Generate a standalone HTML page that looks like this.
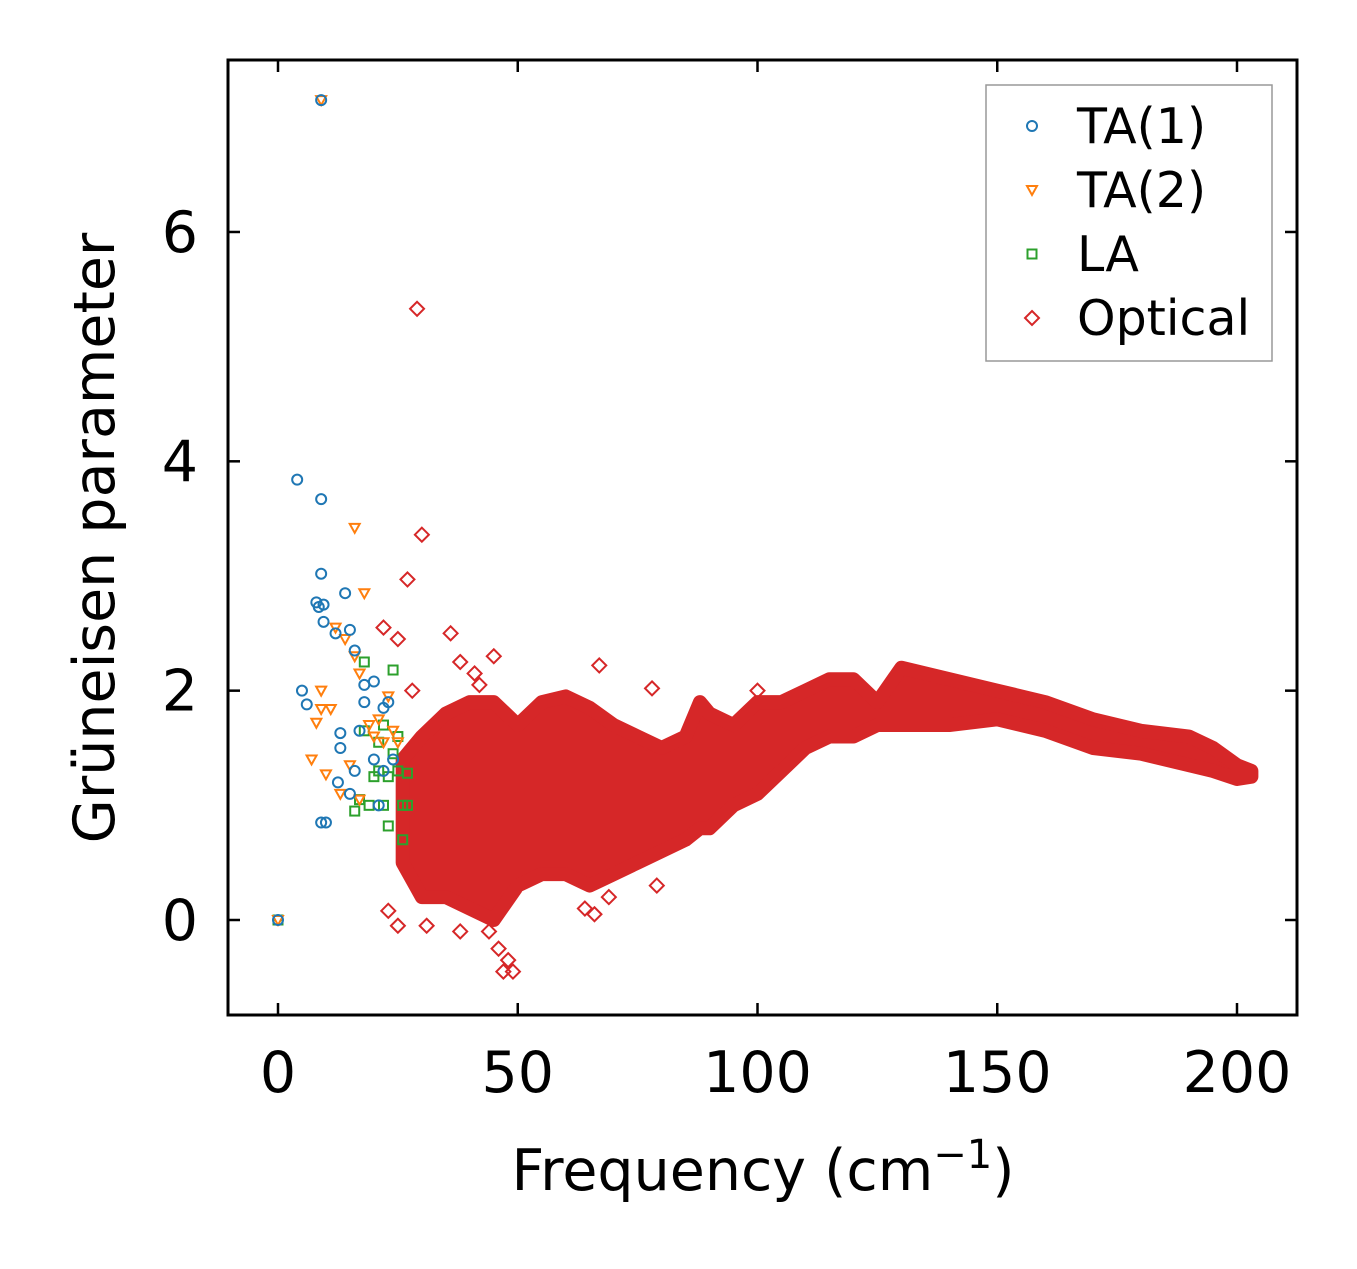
<!DOCTYPE html>
<html><head><meta charset="utf-8"><style>
html,body{margin:0;padding:0;background:#fff;}
svg text{font-family:"DejaVu Sans","Liberation Sans",sans-serif;fill:#000;}
</style></head><body>
<svg id="chart" width="1357" height="1264" viewBox="0 0 1357 1264" xmlns="http://www.w3.org/2000/svg">
<rect x="0" y="0" width="1357" height="1264" fill="#fff"/>
<g id="marks"></g>
<g id="axes"></g>
<g id="legend"></g>
</svg>
<script>
const xTicks=[0,50,100,150,200];
const yTicks=[0,2,4,6];
const ta1X=[0,4,5,6,8,8.5,9,9,9,9.5,10,12,12.5,13,13,14,15,15,16,16,17,18,18,20,20,21,22,22,23,24,9,9.5];
const ta1Y=[0,3.84,2.0,1.88,2.77,2.73,3.67,3.02,0.85,2.6,0.85,2.5,1.2,1.5,1.63,2.85,2.53,1.1,2.35,1.3,1.65,1.9,2.05,1.4,2.08,1.0,1.85,1.3,1.9,1.4,7.15,2.75];
const ta2X=[0,7,8,9,9,10,11,12,13,14,15,16,16,17,17,18,19,20,21,22,23,24,25,9];
const ta2Y=[0,1.4,1.72,1.84,2.0,1.27,1.84,2.55,1.1,2.45,1.35,3.42,2.3,1.05,2.15,2.85,1.7,1.6,1.75,1.55,1.95,1.65,1.55,7.15];
const laX=[0,16,17,18,18,19,20,21,21,22,22,23,23,24,24,25,25,26,26,27,27];
const laY=[0,0.95,1.05,2.25,1.65,1.0,1.25,1.55,1.3,1.0,1.7,1.25,0.82,2.18,1.45,1.6,1.3,1.0,0.7,1.28,1.0];
const optFreq=[26,30,35,40,45,50,55,60,65,70,75,80,85,88,90,95,100,105,110,115,120,125,130,140,150,160,170,180,190,195,200,203];
const optLow=[0.5,0.2,0.2,0.1,0.0,0.3,0.4,0.4,0.3,0.4,0.5,0.6,0.7,0.8,0.8,1.0,1.1,1.3,1.5,1.6,1.6,1.7,1.7,1.7,1.75,1.65,1.5,1.45,1.35,1.3,1.23,1.25];
const optHigh=[1.4,1.6,1.8,1.9,1.9,1.7,1.9,1.95,1.85,1.7,1.6,1.5,1.6,1.9,1.8,1.7,1.9,1.9,2.0,2.1,2.1,1.9,2.2,2.1,2.0,1.9,1.75,1.65,1.6,1.5,1.35,1.3];
const optOutX=[29,30,28,27,22,25,36,38,45,47,48,46,49,44,23,31,25,67,78,66,79,64,69,100,41,42,38];
const optOutY=[5.33,3.36,2.0,2.97,2.55,2.45,2.5,2.25,2.3,-0.45,-0.35,-0.25,-0.45,-0.1,0.08,-0.05,-0.05,2.22,2.02,0.05,0.3,0.1,0.2,2.0,2.15,2.05,-0.1];

const X=v=>278+(v)*4.795;
const Y=v=>920-v*114.67;
const NS="http://www.w3.org/2000/svg";
function mk(tag,attrs,parent){const e=document.createElementNS(NS,tag);for(const k in attrs)e.setAttribute(k,attrs[k]);parent.appendChild(e);return e;}
const marks=document.getElementById('marks');
const C={b:'#1f77b4',o:'#ff7f0e',g:'#2ca02c',r:'#d62728'};
function diamond(x,y,p,name){const s=7;const el=mk('polygon',{points:`${x},${y-s} ${x+s},${y} ${x},${y+s} ${x-s},${y}`,fill:'none',stroke:C.r,'stroke-width':2},p);

}
function circle(x,y,p,name){const el=mk('circle',{cx:x,cy:y,r:5,fill:'none',stroke:C.b,'stroke-width':2},p);

}
function tri(x,y,p,name){const el=mk('polygon',{points:`${x-5},${y-4} ${x+5},${y-4} ${x},${y+5}`,fill:'none',stroke:C.o,'stroke-width':2},p);

}
function sq(x,y,p,name){const el=mk('rect',{x:x-4.5,y:y-4.5,width:9,height:9,fill:'none',stroke:C.g,'stroke-width':2},p);

}

let pts=[];
for(let i=0;i<optFreq.length;i++)pts.push(X(optFreq[i])+','+Y(optHigh[i]));
for(let i=optFreq.length-1;i>=0;i--)pts.push(X(optFreq[i])+','+Y(optLow[i]));
const band=mk('polygon',{points:pts.join(' '),fill:C.r,stroke:C.r,'stroke-width':14,'stroke-linejoin':'round'},marks);


for(let i=0;i<optOutX.length;i++)diamond(X(optOutX[i]),Y(optOutY[i]),marks,'optical-point');
for(let i=0;i<laX.length;i++)sq(X(laX[i]),Y(laY[i]),marks,'la-point');
for(let i=0;i<ta2X.length;i++)tri(X(ta2X[i]),Y(ta2Y[i]),marks,'ta2-point');
for(let i=0;i<ta1X.length;i++)circle(X(ta1X[i]),Y(ta1Y[i]),marks,'ta1-point');

const ax=document.getElementById('axes');
const frame=mk('rect',{x:228,y:60,width:1069,height:955,fill:'none',stroke:'#000','stroke-width':3},ax);


xTicks.forEach(t=>{const x=X(t);
mk('line',{x1:x,y1:1015,x2:x,y2:1003,stroke:'#000','stroke-width':2.5},ax);
mk('line',{x1:x,y1:60,x2:x,y2:72,stroke:'#000','stroke-width':2.5},ax);
const tx=mk('text',{x:x,y:1092,'font-size':57,'text-anchor':'middle'},ax);tx.textContent=t;

});
yTicks.forEach(t=>{const y=Y(t);
mk('line',{x1:228,y1:y,x2:240,y2:y,stroke:'#000','stroke-width':2.5},ax);
mk('line',{x1:1297,y1:y,x2:1285,y2:y,stroke:'#000','stroke-width':2.5},ax);
const tx=mk('text',{x:198,y:y+20,'font-size':57,'text-anchor':'end'},ax);tx.textContent=t;

});
const xl=mk('text',{x:763,y:1190,'font-size':57,'text-anchor':'middle'},ax);
xl.innerHTML='Frequency (cm<tspan dy="-22" font-size="40">−1</tspan><tspan dy="22">)</tspan>';


const yl=mk('text',{x:0,y:0,'font-size':57,'text-anchor':'middle',transform:'translate(114,538) rotate(-90)'},ax);
yl.textContent='Grüneisen parameter';



const lg=document.getElementById('legend');
const lb=mk('rect',{x:986,y:85,width:286,height:276,fill:'#fff',stroke:'#999','stroke-width':1.5},lg);


const labels=['TA(1)','TA(2)','LA','Optical'];
const fns=[circle,tri,sq,diamond];
labels.forEach((l,i)=>{const y=126+i*64;
fns[i](1032,y,lg,'legend-marker');
const t=mk('text',{x:1077,y:y+17,'font-size':49},lg);t.textContent=l;

});
</script>
</body></html>
